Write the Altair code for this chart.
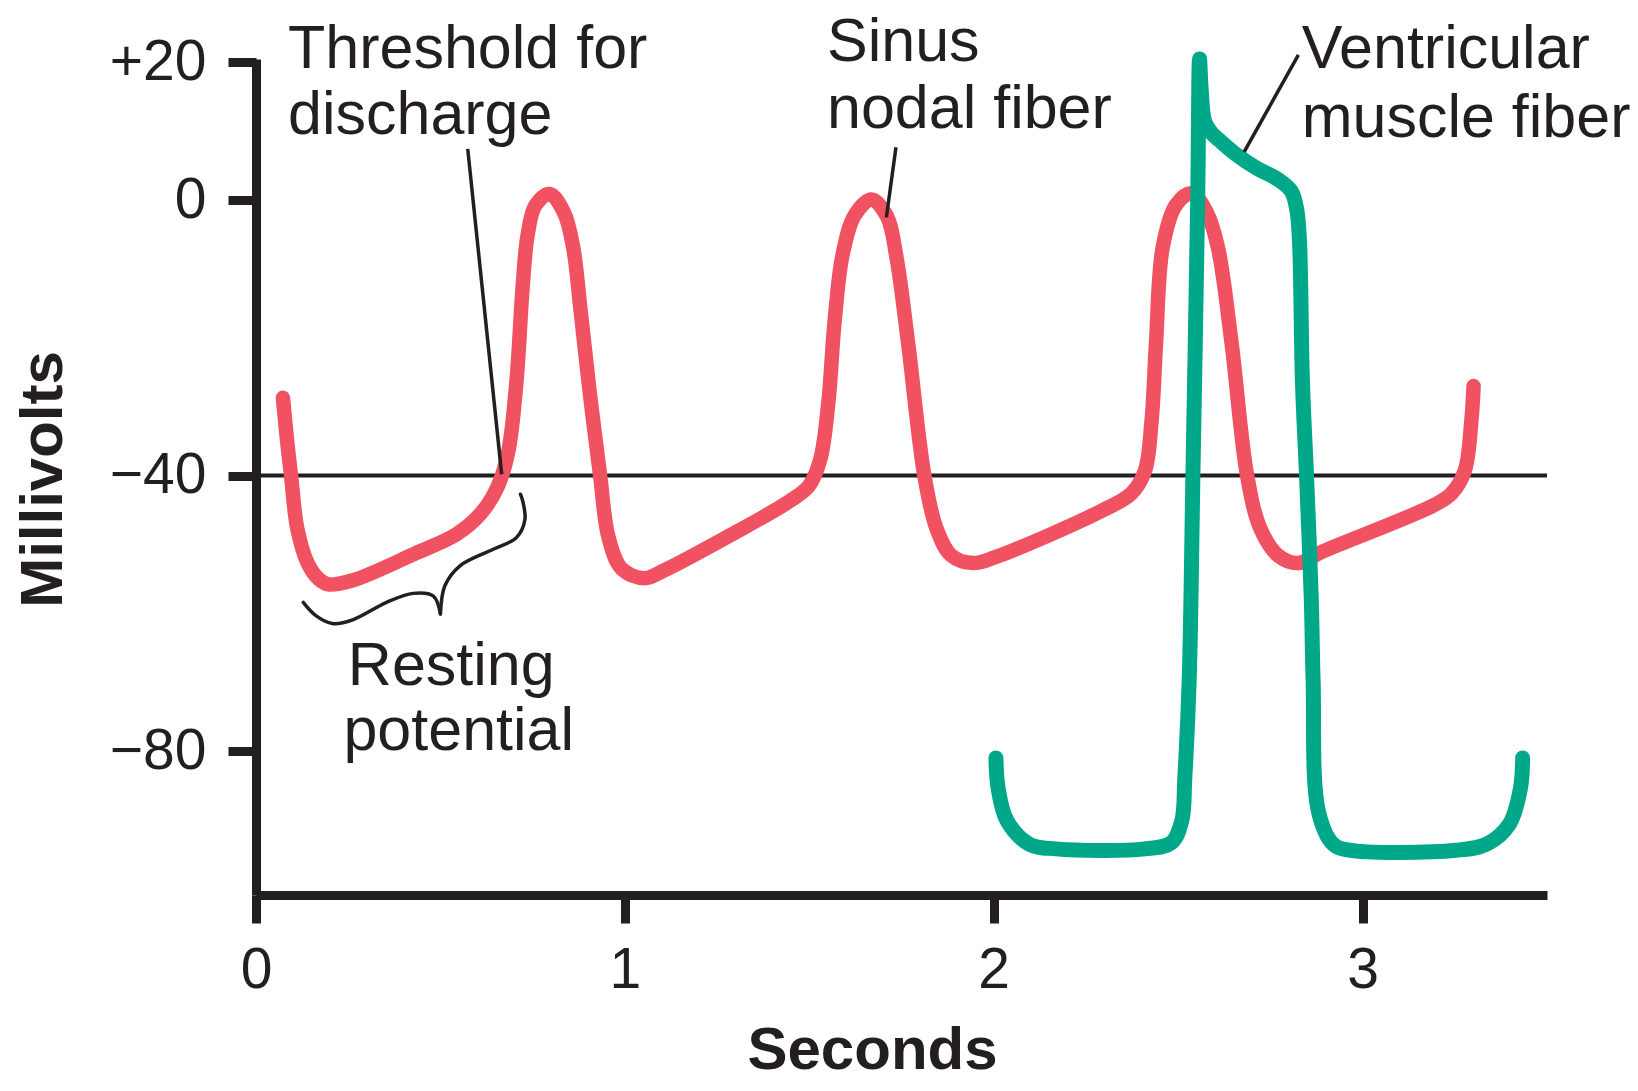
import altair as alt
import pandas as pd

INK = "#231F20"
RED = "#F05262"
GREEN = "#00A88A"
FONT = "Liberation Sans"

# Sinus nodal fiber (seconds, millivolts)
sinus_t = [0.073, 0.084, 0.095, 0.112, 0.140, 0.170, 0.196, 0.263, 0.432, 0.544, 0.611,
           0.656, 0.684, 0.706, 0.723, 0.736, 0.757, 0.796, 0.835, 0.860, 0.880, 0.905,
           0.933, 0.955, 0.991, 1.053, 1.105, 1.281, 1.447, 1.499, 1.530, 1.552, 1.568,
           1.590, 1.623, 1.669, 1.711, 1.737, 1.768, 1.812, 1.845, 1.885, 1.944, 2.006,
           2.289, 2.373, 2.410, 2.428, 2.440, 2.458, 2.494, 2.536, 2.578, 2.608, 2.645,
           2.687, 2.723, 2.771, 2.825, 2.892, 3.193, 3.241, 3.277, 3.295, 3.301]
sinus_mv = [-28.7, -34.8, -40.0, -47.7, -52.7, -55.0, -55.8, -55.2, -51.3, -48.5, -45.4,
            -41.5, -36.5, -26.4, -12.5, -5.2, -0.8, 0.9, -1.8, -6.9, -16.0, -28.0,
            -40.0, -48.8, -53.5, -54.9, -53.8, -48.8, -43.7, -41.5, -37.6, -29.2, -18.0,
            -8.0, -2.2, 0.1, -2.4, -8.5, -20.8, -40.0, -47.7, -51.6, -52.7, -51.8,
            -45.2, -42.6, -39.3, -32.0, -20.8, -6.9, -0.7, 1.0, -1.8, -6.9, -20.8,
            -40.0, -47.7, -51.6, -52.7, -51.0, -44.3, -42.6, -39.3, -32.0, -27.0]

# Ventricular muscle fiber
vent_t = [2.006, 2.012, 2.036, 2.096, 2.169, 2.410, 2.482, 2.510, 2.518, 2.530, 2.540,
          2.553, 2.558, 2.562, 2.572, 2.590, 2.614, 2.663, 2.711, 2.771, 2.807, 2.822,
          2.829, 2.837, 2.848, 2.861, 2.866, 2.880, 2.920, 2.964, 3.253, 3.337, 3.398,
          3.428, 3.434]
vent_mv = [-81.0, -85.4, -90.1, -93.5, -94.2, -94.2, -93.3, -90.1, -84.0, -69.6, -40.0,
           0.0, 20.5, 16.5, 11.4, 9.8, 8.6, 6.4, 4.7, 3.0, 1.3, -1.5,
           -6.0, -26.4, -40.0, -58.0, -70.0, -88.7, -93.5, -94.4, -94.4, -93.5, -90.6,
           -85.4, -81.0]

# Leader lines from the labels
lead_t = [0.574, 1.735, 2.826]
lead_mv = [7.45, 7.7, 21.1]
lead_t2 = [0.666, 1.709, 2.679]
lead_mv2 = [-39.8, -2.5, 7.0]

# Curly brace under the resting potential
brace_left_t = [0.128, 0.164, 0.210, 0.264, 0.354, 0.426, 0.481, 0.500]
brace_left_mv = [-58.4, -60.4, -61.5, -60.9, -58.4, -57.1, -57.5, -60.1]
brace_right_t = [0.500, 0.512, 0.553, 0.643, 0.706, 0.729, 0.724, 0.717]
brace_right_mv = [-60.1, -56.0, -53.1, -50.7, -49.0, -46.4, -43.9, -42.7]

# Text labels
label_text = ["Threshold for", "discharge", "Sinus", "nodal fiber", "Ventricular",
              "muscle fiber", "Resting", "potential"]
label_t = [0.0867, 0.0867, 1.548, 1.548, 2.835, 2.835, 0.249, 0.237]
label_mv = [19.26, 9.67, 20.27, 10.54, 19.26, 9.24, -70.35, -79.9]

threshold_mv = [-40]
x_ticks = [0, 1, 2, 3]
y_ticks = [20, 0, -40, -80]
x_domain = [0, 3.5]
y_domain = [-100.9, 20.5]

sinus_df = pd.DataFrame({"t": sinus_t, "mv": sinus_mv})
vent_df = pd.DataFrame({"t": vent_t, "mv": vent_mv})
lead_df = pd.DataFrame({"t": lead_t, "mv": lead_mv, "t2": lead_t2, "mv2": lead_mv2})
brace_df = pd.DataFrame({
    "t": brace_left_t + brace_right_t,
    "mv": brace_left_mv + brace_right_mv,
    "part": ["left"] * len(brace_left_t) + ["right"] * len(brace_right_t),
    "i": list(range(len(brace_left_t))) + list(range(len(brace_right_t))),
})
label_df = pd.DataFrame({"text": label_text, "t": label_t, "mv": label_mv})
thr_df = pd.DataFrame({"mv": threshold_mv, "t": [x_domain[0]], "t2": [x_domain[1]]})

x_enc = alt.X("t:Q", scale=alt.Scale(domain=x_domain, nice=False, zero=False),
              axis=alt.Axis(values=x_ticks, format="d", title="Seconds",
                            labelPadding=19, labelFlush=False, titleX=616, titleY=173,
                            titleAlign="center", titleBaseline="alphabetic"))
y_enc = alt.Y("mv:Q", scale=alt.Scale(domain=y_domain, nice=False, zero=False),
              axis=alt.Axis(values=y_ticks, title="Millivolts",
                            labelExpr="datum.value > 0 ? '+' + datum.label : datum.label",
                            labelPadding=22, labelFlush=False,
                            titleX=-195, titleY=420, titleAngle=270,
                            titleAlign="center", titleBaseline="alphabetic"))

threshold = alt.Chart(thr_df).mark_rule(color=INK, strokeWidth=4).encode(
    x=x_enc, x2="t2:Q", y=y_enc)

sinus = alt.Chart(sinus_df).mark_line(
    color=RED, strokeWidth=14.5, interpolate="catmull-rom", strokeCap="round", strokeJoin="round"
).encode(x="t:Q", y="mv:Q")

vent = alt.Chart(vent_df).mark_line(
    color=GREEN, strokeWidth=15, interpolate="catmull-rom", strokeCap="round", strokeJoin="round"
).encode(x="t:Q", y="mv:Q")

leads = alt.Chart(lead_df).mark_rule(color=INK, strokeWidth=3.5).encode(
    x="t:Q", y="mv:Q", x2="t2:Q", y2="mv2:Q")

brace = alt.Chart(brace_df).mark_line(
    color=INK, strokeWidth=3.5, interpolate="catmull-rom", strokeCap="round"
).encode(x="t:Q", y="mv:Q", detail="part:N", order=alt.Order("i:Q"))

labels = alt.Chart(label_df).mark_text(
    align="left", baseline="alphabetic", font=FONT, fontSize=61, color=INK
).encode(x="t:Q", y="mv:Q", text="text:N")

chart = alt.layer(threshold, sinus, vent, leads, brace, labels).properties(
    width=1291, height=836,
    padding={"left": 248, "top": 51, "right": 83, "bottom": 181},
    autosize=alt.AutoSizeParams(type="none"),
    background="white",
).configure_view(stroke=None).configure_axis(
    grid=False,
    domainColor=INK, domainWidth=9,
    tickColor=INK, tickWidth=9, tickSize=28,
    labelFont=FONT, labelFontSize=57, labelColor=INK,
    titleFont=FONT, titleFontSize=60, titleFontWeight="bold", titleColor=INK,
)

chart.save("out.html", embed_options={"renderer": "svg", "actions": False})
